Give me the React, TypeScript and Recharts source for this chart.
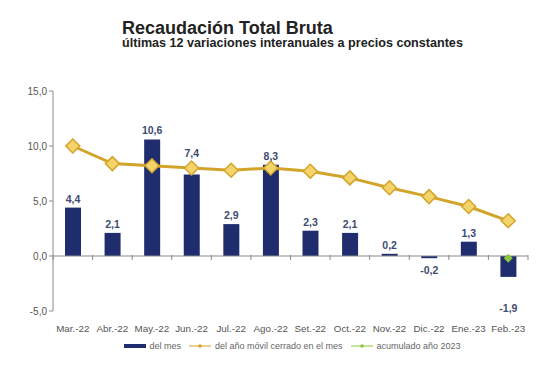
import React from "react";
import {
  ComposedChart,
  Bar,
  Line,
  XAxis,
  YAxis,
  LabelList,
  ReferenceLine,
} from "recharts";

const categories = [
  "Mar.-22", "Abr.-22", "May.-22", "Jun.-22", "Jul.-22", "Ago.-22",
  "Set.-22", "Oct.-22", "Nov.-22", "Dic.-22", "Ene.-23", "Feb.-23",
];
const delMes = [4.4, 2.1, 10.6, 7.4, 2.9, 8.3, 2.3, 2.1, 0.2, -0.2, 1.3, -1.9];
const anioMovil = [10.0, 8.4, 8.2, 8.0, 7.8, 8.0, 7.7, 7.1, 6.2, 5.4, 4.5, 3.2];
const acumulado2023 = [null, null, null, null, null, null, null, null, null, null, null, -0.2];
const yTicks = [-5, 0, 5, 10, 15];

const NAVY = "#1f2d6e";
const GOLD = "#d3a42a";
const GREEN = "#8dc63f";

const data = categories.map((c, i) => ({
  mes: c,
  delMes: delMes[i],
  anioMovil: anioMovil[i],
  acumulado: acumulado2023[i],
}));

const fmt = (v: number) => v.toFixed(1).replace(".", ",");

const BarLabel = (props: any) => {
  const { x, y, width, height, value, index } = props;
  const neg = value < 0;
  const cx = x + width / 2;
  let ty = neg ? y + Math.abs(height) + 14 : y - 5;
  // lift the label above the line when the line sits just over the bar
  const lineVal = anioMovil[index];
  if (!neg && lineVal > value && lineVal - value < 1.5 && value !== 0) {
    const pxPerUnit = Math.abs(height) / Math.abs(value);
    ty = y - (lineVal - value) * pxPerUnit - 11;
  }
  return (
    <text x={cx} y={ty} textAnchor="middle" fontSize={10.5} fontWeight="bold" fill="#3d4c70">
      {fmt(value)}
    </text>
  );
};

const GoldDiamond = (props: any) => {
  const { cx, cy } = props;
  if (cx == null || cy == null) return null;
  const r = 7;
  return (
    <path
      d={`M${cx},${cy - r} L${cx + r},${cy} L${cx},${cy + r} L${cx - r},${cy} Z`}
      fill="#f3d46a"
      stroke={GOLD}
      strokeWidth={1.5}
    />
  );
};

const GreenDiamond = (props: any) => {
  const { cx, cy } = props;
  if (cx == null || cy == null) return null;
  const r = 4;
  return (
    <path
      d={`M${cx},${cy - r} L${cx + r},${cy} L${cx},${cy + r} L${cx - r},${cy} Z`}
      fill={GREEN}
      stroke={GREEN}
    />
  );
};

// zero line with category-boundary tick marks
const ZeroLine = (props: any) => {
  const { x1, x2, y1 } = props;
  const n = categories.length;
  const step = (x2 - x1) / n;
  const marks = [];
  for (let i = 0; i <= n; i++) {
    const x = x1 + step * i;
    marks.push(<line key={i} x1={x} x2={x} y1={y1 - 1} y2={y1 + 4} stroke="#8a8a8a" />);
  }
  return (
    <g>
      <line x1={x1} x2={x2} y1={y1} y2={y1} stroke="#8a8a8a" strokeWidth={1} />
      {marks}
    </g>
  );
};

const Legend = () => (
  <div
    style={{
      position: "absolute",
      top: 341,
      left: 0,
      width: 555,
      display: "flex",
      justifyContent: "center",
      alignItems: "center",
      fontFamily: "Liberation Sans, Arial, sans-serif",
      fontSize: 9,
      color: "#666",
      paddingLeft: 30,
      boxSizing: "border-box",
    }}
  >
    <svg width={22} height={10}>
      <line x1={0} x2={22} y1={5} y2={5} stroke={NAVY} strokeWidth={4} />
    </svg>
    <span style={{ marginLeft: 3, marginRight: 8 }}>del mes</span>
    <svg width={22} height={10}>
      <line x1={0} x2={22} y1={5} y2={5} stroke={GOLD} strokeWidth={1} />
      <circle cx={11} cy={5} r={1.8} fill={GOLD} />
    </svg>
    <span style={{ marginLeft: 4, marginRight: 8 }}>del año móvil cerrado en el mes</span>
    <svg width={22} height={10}>
      <line x1={0} x2={22} y1={5} y2={5} stroke={GREEN} strokeWidth={1} />
      <circle cx={11} cy={5} r={1.8} fill={GREEN} />
    </svg>
    <span style={{ marginLeft: 4 }}>acumulado año 2023</span>
  </div>
);

export default function App() {
  return (
    <div
      style={{
        position: "absolute",
        left: 0,
        top: 0,
        width: 555,
        height: 387,
        background: "#fff",
        fontFamily: "Liberation Sans, Arial, sans-serif",
      }}
    >
      <div
        style={{
          position: "absolute",
          left: 122,
          top: 18,
          fontSize: 18,
          fontWeight: "bold",
          color: "#222",
          whiteSpace: "nowrap",
        }}
      >
        Recaudación Total Bruta
      </div>
      <div
        style={{
          position: "absolute",
          left: 122,
          top: 36,
          fontSize: 12.6,
          fontWeight: "bold",
          color: "#222",
          whiteSpace: "nowrap",
        }}
      >
        últimas 12 variaciones interanuales a precios constantes
      </div>
      <ComposedChart
        width={555}
        height={387}
        data={data}
        margin={{ top: 91, right: 27, left: 0, bottom: 46 }}
      >
        <XAxis
          dataKey="mes"
          axisLine={false}
          tickLine={false}
          interval={0}
          height={30}
          tick={{ fontSize: 9.8, fill: "#555" }}
          tickMargin={8}
        />
        <YAxis
          domain={[-5, 15]}
          ticks={yTicks}
          width={53}
          axisLine={{ stroke: "#8a8a8a" }}
          tickLine={{ stroke: "#8a8a8a" }}
          tickSize={4}
          tick={{ fontSize: 10, fill: "#555" }}
          tickFormatter={(v: number) => fmt(v)}
          interval={0}
        />
        <Bar dataKey="delMes" fill={NAVY} barSize={16} isAnimationActive={false}>
          <LabelList dataKey="delMes" content={<BarLabel />} />
        </Bar>
        <ReferenceLine y={0} shape={<ZeroLine />} />
        <Line
          dataKey="anioMovil"
          stroke={GOLD}
          strokeWidth={3}
          dot={<GoldDiamond />}
          activeDot={false}
          isAnimationActive={false}
          type="linear"
        />
        <Line
          dataKey="acumulado"
          stroke={GREEN}
          strokeWidth={1}
          dot={<GreenDiamond />}
          activeDot={false}
          isAnimationActive={false}
          type="linear"
        />
      </ComposedChart>
      <Legend />
    </div>
  );
}
